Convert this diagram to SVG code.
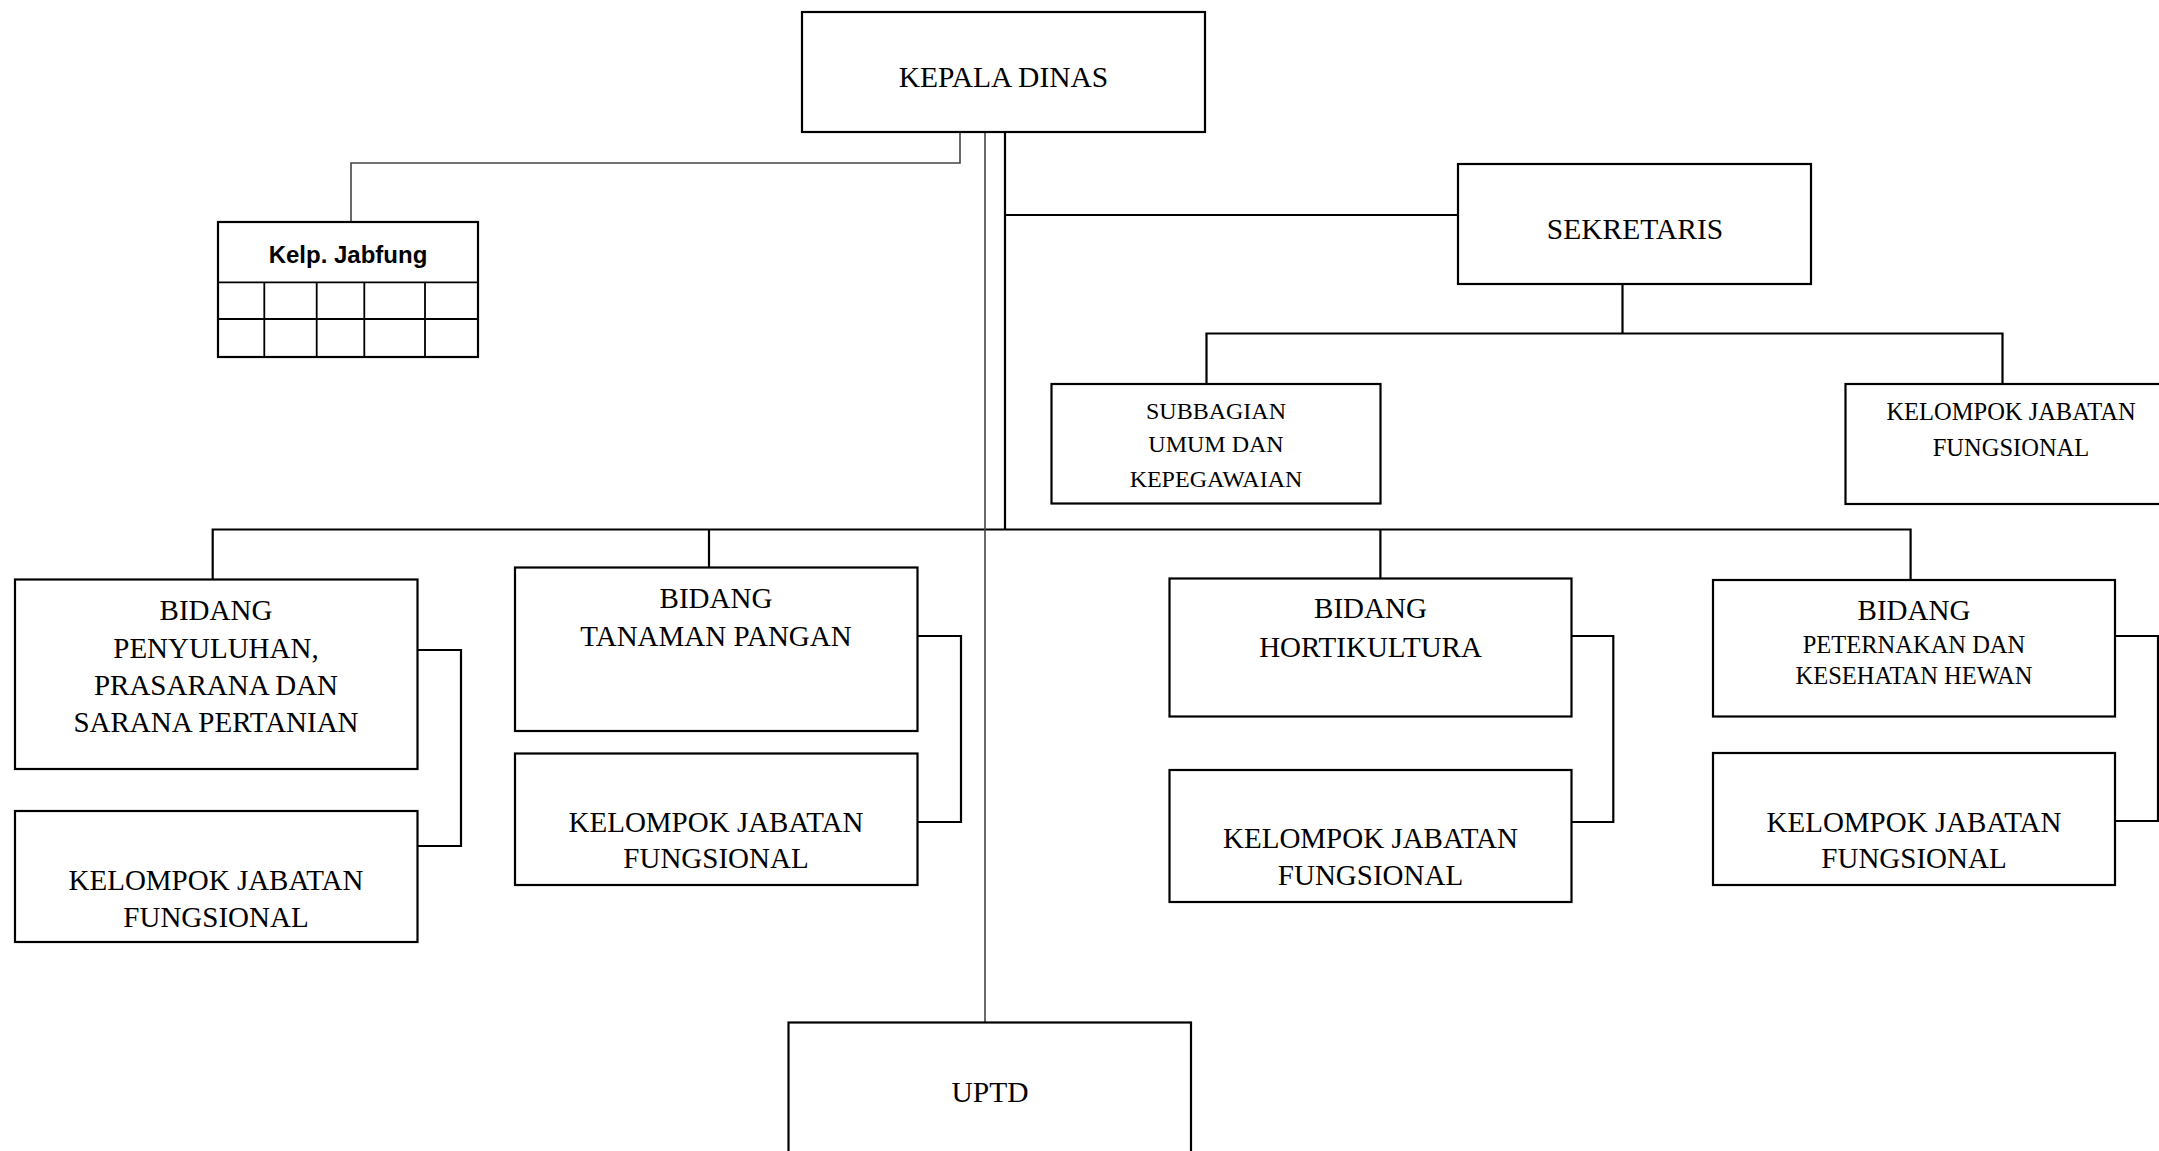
<svg xmlns="http://www.w3.org/2000/svg" width="2159" height="1151" viewBox="0 0 2159 1151">
<style>
.box{fill:#fff;stroke:#000;stroke-width:2.2}
.t{font-family:"Liberation Serif","Times New Roman",serif;fill:#000;text-anchor:middle}
.s28{font-size:29px}.s29{font-size:29.5px}.s24{font-size:24.5px}.s23{font-size:24px}
.c{fill:none;stroke:#000;stroke-width:2.2}
.g{fill:none;stroke:#444;stroke-width:1.6}
.grid{fill:none;stroke:#000;stroke-width:1.8}
</style>
<rect width="2159" height="1151" fill="#fff"/>
<g id="connectors">
<path class="g" d="M960,132 V163 H351 V222"/>
<path class="c" d="M1005,132 V529.5"/>
<path class="c" d="M1005,215 H1458"/>
<path class="c" d="M1622.5,284 V333.5"/>
<path class="c" d="M1206.5,384 V333.5 H2002.5 V384"/>
<path class="c" d="M212.7,579.5 V529.5 H1910.6 V580"/>
<path class="c" d="M709,529.5 V567.5"/>
<path class="c" d="M1380.4,529.5 V578.5"/>
<path class="c" d="M417.5,650 H461 V846 H417.5"/>
<path class="c" d="M917.5,636 H961 V822 H917.5"/>
<path class="c" d="M1571.5,636 H1613.3 V822 H1571.5"/>
<path class="c" d="M2115,636 H2158 V821 H2115"/>
<path class="g" d="M985,132 V1022"/>
</g>
<g id="kepala-dinas">
<rect class="box" x="802" y="12" width="403" height="120"/>
<text class="t s29" x="1003.5" y="87">KEPALA DINAS</text>
</g>
<g id="kelp-jabfung">
<rect class="box" x="218" y="222" width="260" height="135"/>
<path class="grid" d="M218,282.3 H478 M218,319 H478 M264.3,282.3 V357 M316.7,282.3 V357 M364.3,282.3 V357 M425,282.3 V357"/>
<text x="348" y="263" font-family="Liberation Sans, Arial, sans-serif" font-weight="bold" font-size="24" text-anchor="middle">Kelp. Jabfung</text>
</g>
<g id="sekretaris">
<rect class="box" x="1458" y="164" width="353" height="120"/>
<text class="t s29" x="1635" y="239">SEKRETARIS</text>
</g>
<g id="subbagian">
<rect class="box" x="1051.5" y="384" width="329" height="119.5"/>
<text class="t s23" x="1216" y="419">SUBBAGIAN</text>
<text class="t s23" x="1216" y="452">UMUM DAN</text>
<text class="t s23" x="1216" y="487">KEPEGAWAIAN</text>
</g>
<g id="kjf-sekretaris">
<rect class="box" x="1845.5" y="384" width="330" height="120"/>
<text class="t s24" x="2011" y="420">KELOMPOK JABATAN</text>
<text class="t s24" x="2011" y="456">FUNGSIONAL</text>
</g>
<g id="bidang-penyuluhan">
<rect class="box" x="15" y="579.5" width="402.5" height="189.5"/>
<text class="t s28" x="216" y="620">BIDANG</text>
<text class="t s28" x="216" y="658">PENYULUHAN,</text>
<text class="t s28" x="216" y="695">PRASARANA DAN</text>
<text class="t s28" x="216" y="732">SARANA PERTANIAN</text>
</g>
<g id="kjf-penyuluhan">
<rect class="box" x="15" y="811" width="402.5" height="131"/>
<text class="t s28" x="216" y="890">KELOMPOK JABATAN</text>
<text class="t s28" x="216" y="927">FUNGSIONAL</text>
</g>
<g id="bidang-tanaman-pangan">
<rect class="box" x="515" y="567.5" width="402.5" height="163.5"/>
<text class="t s28" x="716" y="608">BIDANG</text>
<text class="t s28" x="716" y="646">TANAMAN PANGAN</text>
</g>
<g id="kjf-tanaman-pangan">
<rect class="box" x="515" y="753.5" width="402.5" height="131.5"/>
<text class="t s28" x="716" y="832">KELOMPOK JABATAN</text>
<text class="t s28" x="716" y="868">FUNGSIONAL</text>
</g>
<g id="bidang-hortikultura">
<rect class="box" x="1169.5" y="578.5" width="402" height="138"/>
<text class="t s28" x="1370.5" y="618">BIDANG</text>
<text class="t s28" x="1370.5" y="657">HORTIKULTURA</text>
</g>
<g id="kjf-hortikultura">
<rect class="box" x="1169.5" y="770" width="402" height="132"/>
<text class="t s28" x="1370.5" y="848">KELOMPOK JABATAN</text>
<text class="t s28" x="1370.5" y="885">FUNGSIONAL</text>
</g>
<g id="bidang-peternakan">
<rect class="box" x="1713" y="580" width="402" height="136.5"/>
<text class="t s28" x="1914" y="620">BIDANG</text>
<text class="t s24" x="1914" y="653">PETERNAKAN DAN</text>
<text class="t s24" x="1914" y="684">KESEHATAN HEWAN</text>
</g>
<g id="kjf-peternakan">
<rect class="box" x="1713" y="753" width="402" height="132"/>
<text class="t s28" x="1914" y="832">KELOMPOK JABATAN</text>
<text class="t s28" x="1914" y="868">FUNGSIONAL</text>
</g>
<g id="uptd">
<rect class="box" x="788.5" y="1022.5" width="402.5" height="140"/>
<text class="t s29" x="990" y="1102">UPTD</text>
</g>
</svg>
